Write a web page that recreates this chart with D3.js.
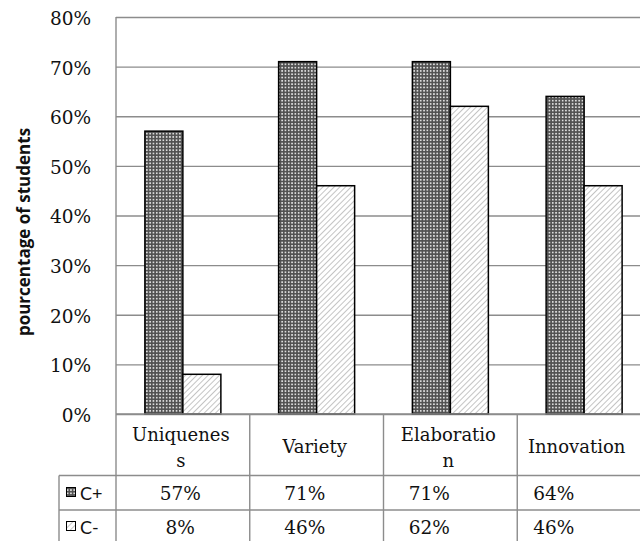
<!DOCTYPE html>
<html>
<head>
<meta charset="utf-8">
<script src="https://cdn.jsdelivr.net/npm/d3@7"></script>
<style>
  html, body { margin: 0; padding: 0; background: #fff; }
  svg { display: block; }
</style>
</head>
<body>
<div id="chart"></div>
<script>
// Category names (second array holds the wrapped lines shown in the data table)
const categories = ["Uniqueness", "Variety", "Elaboration", "Innovation"];
const categoryLines = [["Uniquenes", "s"], ["Variety"], ["Elaboratio", "n"], ["Innovation"]];
const seriesNames = ["C+", "C-"];
const valuesCPlus = [57, 71, 71, 64];
const valuesCMinus = [8, 46, 62, 46];
const yTicks = [0, 10, 20, 30, 40, 50, 60, 70, 80];
const yLabel = "pourcentage of students";

const W = 640, H = 541;
const plot = { left: 116, top: 17, bottom: 414 };
const bandW = 133.75;
const row1 = 475.5, row2 = 510;
const legendLeft = 59;
const gridColor = "#8c8c8c";
const serif = "'DejaVu Serif', serif";

const svg = d3.select("#chart").append("svg")
  .attr("width", W).attr("height", H);

// Fill patterns for the two series
const defs = svg.append("defs");
const dots = defs.append("pattern").attr("id", "pat-cplus")
  .attr("patternUnits", "userSpaceOnUse").attr("width", 3.3).attr("height", 3.3);
dots.append("rect").attr("width", 3.3).attr("height", 3.3).attr("fill", "#505050");
dots.append("rect").attr("x", 0.8).attr("y", 0.8).attr("width", 1.7).attr("height", 1.7).attr("fill", "#dcdcdc");

const hatch = defs.append("pattern").attr("id", "pat-cminus")
  .attr("patternUnits", "userSpaceOnUse").attr("width", 4).attr("height", 4)
  .attr("patternTransform", "rotate(45)");
hatch.append("rect").attr("width", 4).attr("height", 4).attr("fill", "#fff");
hatch.append("line").attr("x1", 0.5).attr("y1", 0).attr("x2", 0.5).attr("y2", 4)
  .attr("stroke", "#bdbdbd").attr("stroke-width", 0.9);

const fills = ["url(#pat-cplus)", "url(#pat-cminus)"];

// Scales
const x = d3.scaleBand().domain(categories)
  .range([plot.left, plot.left + bandW * categories.length]).paddingInner(0).paddingOuter(0);
const inner = d3.scaleBand().domain(seriesNames)
  .range([0, x.bandwidth()]).paddingOuter(0.76).paddingInner(0);
const y = d3.scaleLinear().domain([0, 80]).range([plot.bottom, plot.top]);
// Positions of the value cells in the data table
const cellX = d3.scaleBand().domain(categories).range([118, 616]);

// Gridlines
const yAxis = d3.axisLeft(y).tickValues(yTicks).tickSize(-(W - plot.left)).tickFormat(d => d + "%");
const gAxis = svg.append("g").attr("transform", `translate(${plot.left},0)`).call(yAxis);
gAxis.select(".domain").remove();
gAxis.selectAll(".tick line").attr("stroke", gridColor).attr("stroke-width", 1.4);
gAxis.selectAll(".tick text")
  .attr("x", -25).attr("dy", "0.4em")
  .attr("fill", "#111").style("font-family", serif).style("font-size", "18.5px");

// Vertical axis line through the data table
svg.append("line").attr("x1", plot.left).attr("x2", plot.left)
  .attr("y1", plot.top).attr("y2", H).attr("stroke", gridColor).attr("stroke-width", 1.4);

// Y axis title
svg.append("text")
  .attr("transform", `translate(30,232) rotate(-90)`)
  .attr("text-anchor", "middle")
  .style("font-family", "'Open Sans', sans-serif").style("font-weight", "bold").style("font-size", "17px")
  .attr("fill", "#111")
  .text(yLabel);

// Bars
const series = [valuesCPlus, valuesCMinus];
seriesNames.forEach((s, si) => {
  svg.append("g").selectAll("rect").data(categories).join("rect")
    .attr("x", (c) => x(c) + inner(s))
    .attr("width", inner.bandwidth())
    .attr("y", (c, i) => y(series[si][i]))
    .attr("height", (c, i) => y(0) - y(series[si][i]))
    .attr("fill", fills[si])
    .attr("stroke", "#000").attr("stroke-width", 1.5);
});

// Data table grid
const tbl = svg.append("g").attr("stroke", gridColor).attr("stroke-width", 1.4);
tbl.append("line").attr("x1", plot.left).attr("x2", W).attr("y1", plot.bottom).attr("y2", plot.bottom);
[row1, row2].forEach(r => tbl.append("line").attr("x1", legendLeft).attr("x2", W).attr("y1", r).attr("y2", r));
tbl.append("line").attr("x1", legendLeft).attr("x2", legendLeft).attr("y1", row1).attr("y2", H);
categories.slice(1).forEach(c => tbl.append("line").attr("x1", x(c)).attr("x2", x(c)).attr("y1", plot.bottom).attr("y2", H));

// Category header cells
categories.forEach((c, i) => {
  const x0 = x(c), x1 = Math.min(x(c) + x.bandwidth(), W);
  const cx = (x0 + x1) / 2 - 2;
  const lines = categoryLines[i];
  const t = svg.append("text").attr("text-anchor", "middle")
    .style("font-family", serif).style("font-size", "18px").attr("fill", "#111");
  if (lines.length === 1) {
    t.append("tspan").attr("x", cx).attr("y", 453).text(lines[0]);
  } else {
    lines.forEach((ln, li) => t.append("tspan").attr("x", cx).attr("y", 441 + li * 26).text(ln));
  }
});

// Value cells
const rowsBase = [500, 534];
seriesNames.forEach((s, si) => {
  svg.append("g").selectAll("text").data(categories).join("text")
    .attr("x", c => cellX(c) + cellX.bandwidth() / 2)
    .attr("y", rowsBase[si])
    .attr("text-anchor", "middle")
    .style("font-family", serif).style("font-size", "18.5px").attr("fill", "#111")
    .text((c, i) => Math.round(series[si][i]) + "%");

  // Legend key
  svg.append("rect").attr("x", 66.5).attr("y", rowsBase[si] - 12.5)
    .attr("width", 9).attr("height", 9)
    .attr("fill", fills[si]).attr("stroke", "#000").attr("stroke-width", 1);
  svg.append("text").attr("x", 80).attr("y", rowsBase[si] - 0.5)
    .style("font-family", "Lato, sans-serif").style("font-size", "18px").attr("fill", "#111")
    .text(s);
});
</script>
</body>
</html>
